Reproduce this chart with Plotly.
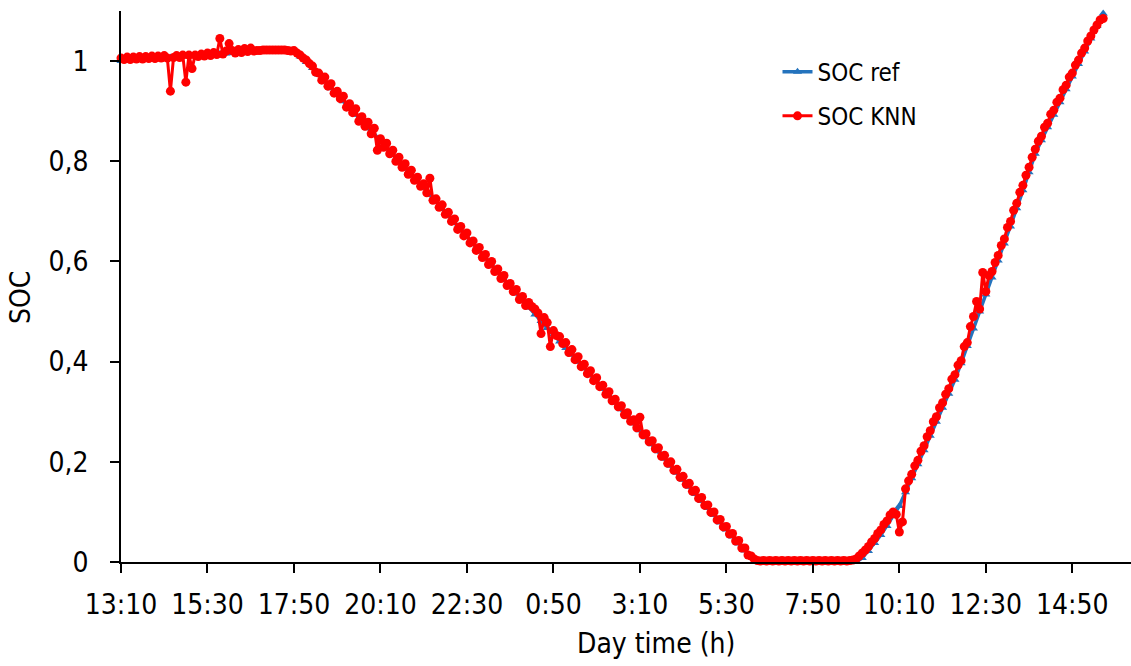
import plotly.graph_objects as go

# Tick labels (every 140 minutes starting 13:10)
tick_labels = ["13:10", "15:30", "17:50", "20:10", "22:30", "0:50",
               "3:10", "5:30", "7:50", "10:10", "12:30", "14:50"]
tick_step_min = 140

# SOC reference, one value every 10 minutes from 13:10
soc_ref = [
    1.000, 1.001, 1.002, 1.003, 1.004, 1.004, 1.005, 1.006, 1.007, 1.008,
    1.009, 1.010, 1.011, 1.012, 1.012, 1.013, 1.014, 1.015, 1.016, 1.017,
    1.018, 1.019, 1.020, 1.020, 1.021, 1.021, 1.021, 1.021, 1.020, 1.009,
    0.998, 0.986, 0.973, 0.960, 0.946, 0.933, 0.920, 0.906, 0.893, 0.880,
    0.866, 0.853, 0.840, 0.826, 0.813, 0.800, 0.786, 0.773, 0.760, 0.747,
    0.733, 0.719, 0.705, 0.691, 0.677, 0.663, 0.649, 0.635, 0.621, 0.606,
    0.592, 0.578, 0.564, 0.550, 0.536, 0.521, 0.508, 0.494, 0.481, 0.467,
    0.454, 0.440, 0.427, 0.414, 0.400, 0.387, 0.373, 0.360, 0.346, 0.333,
    0.319, 0.305, 0.291, 0.277, 0.263, 0.249, 0.235, 0.221, 0.206, 0.192,
    0.178, 0.164, 0.150, 0.136, 0.122, 0.108, 0.094, 0.079, 0.065, 0.051,
    0.037, 0.023, 0.010, 0.002, 0.000, 0.000, 0.000, 0.000, 0.000, 0.000,
    0.000, 0.000, 0.000, 0.000, 0.000, 0.000, 0.000, 0.000, 0.000, 0.000,
    0.008, 0.022, 0.038, 0.054, 0.072, 0.092, 0.112, 0.139, 0.167, 0.195,
    0.223, 0.252, 0.280, 0.308, 0.336, 0.364, 0.397, 0.431, 0.466, 0.500,
    0.534, 0.568, 0.602, 0.636, 0.670, 0.706, 0.742, 0.778, 0.815, 0.842,
    0.868, 0.893, 0.918, 0.944, 0.969, 0.994, 1.019, 1.045, 1.070, 1.095,
]
ref_step_min = 10

# SOC estimated by KNN, one value every 5 minutes from 13:10
soc_knn = [
    1.006, 1.003, 1.008, 1.003, 1.008, 1.004, 1.009, 1.004, 1.009, 1.005,
    1.010, 1.005, 1.010, 1.006, 1.011, 1.006, 0.940, 1.007, 1.011, 1.007,
    1.012, 0.958, 1.012, 0.985, 1.012, 1.009, 1.014, 1.010, 1.016, 1.011,
    1.017, 1.013, 1.045, 1.014, 1.020, 1.035, 1.021, 1.016, 1.023, 1.017,
    1.025, 1.019, 1.026, 1.020, 1.021, 1.021, 1.022, 1.022, 1.022, 1.022,
    1.022, 1.022, 1.022, 1.022, 1.021, 1.020, 1.021, 1.016, 1.012, 1.006,
    1.002, 0.995, 0.990, 0.978, 0.976, 0.962, 0.968, 0.950, 0.955, 0.936,
    0.940, 0.925, 0.930, 0.908, 0.915, 0.897, 0.905, 0.880, 0.889, 0.870,
    0.878, 0.855, 0.866, 0.822, 0.845, 0.828, 0.836, 0.815, 0.822, 0.800,
    0.808, 0.788, 0.795, 0.774, 0.782, 0.762, 0.768, 0.750, 0.755, 0.737,
    0.766, 0.722, 0.725, 0.708, 0.713, 0.694, 0.698, 0.680, 0.685, 0.664,
    0.670, 0.651, 0.657, 0.637, 0.641, 0.622, 0.628, 0.608, 0.614, 0.594,
    0.600, 0.580, 0.585, 0.566, 0.572, 0.552, 0.556, 0.540, 0.544, 0.524,
    0.530, 0.512, 0.518, 0.510, 0.505, 0.497, 0.456, 0.488, 0.478, 0.430,
    0.462, 0.452, 0.450, 0.436, 0.438, 0.418, 0.424, 0.404, 0.410, 0.390,
    0.395, 0.376, 0.382, 0.362, 0.368, 0.350, 0.353, 0.335, 0.340, 0.322,
    0.325, 0.310, 0.312, 0.294, 0.298, 0.281, 0.284, 0.268, 0.289, 0.254,
    0.256, 0.240, 0.242, 0.226, 0.228, 0.211, 0.213, 0.197, 0.200, 0.183,
    0.185, 0.169, 0.171, 0.155, 0.157, 0.141, 0.143, 0.127, 0.129, 0.113,
    0.114, 0.099, 0.100, 0.084, 0.085, 0.070, 0.071, 0.056, 0.057, 0.042,
    0.043, 0.028, 0.028, 0.014, 0.012, 0.006, 0.003, 0.002, 0.003, 0.002,
    0.003, 0.002, 0.003, 0.002, 0.003, 0.002, 0.003, 0.002, 0.003, 0.002,
    0.003, 0.002, 0.003, 0.002, 0.003, 0.002, 0.003, 0.002, 0.003, 0.002,
    0.003, 0.002, 0.003, 0.002, 0.003, 0.002, 0.003, 0.004, 0.006, 0.012,
    0.018, 0.024, 0.031, 0.040, 0.047, 0.057, 0.064, 0.075, 0.082, 0.094,
    0.100, 0.095, 0.060, 0.080, 0.146, 0.162, 0.175, 0.192, 0.203, 0.221,
    0.232, 0.250, 0.262, 0.280, 0.290, 0.308, 0.318, 0.335, 0.346, 0.365,
    0.374, 0.393, 0.402, 0.430, 0.438, 0.470, 0.490, 0.520, 0.505, 0.578,
    0.540, 0.572, 0.580, 0.598, 0.612, 0.632, 0.645, 0.668, 0.680, 0.702,
    0.716, 0.738, 0.752, 0.772, 0.788, 0.808, 0.824, 0.840, 0.850, 0.868,
    0.876, 0.894, 0.902, 0.918, 0.926, 0.943, 0.952, 0.968, 0.976, 0.992,
    1.002, 1.016, 1.026, 1.040, 1.050, 1.062, 1.072, 1.082, 1.085,
]
knn_step_min = 5

y_tick_vals = [0, 0.2, 0.4, 0.6, 0.8, 1]
y_tick_text = ["0", "0,2", "0,4", "0,6", "0,8", "1"]

ref_t = [i * ref_step_min for i in range(len(soc_ref))]
knn_t = [i * knn_step_min for i in range(len(soc_knn))]
tick_vals = [i * tick_step_min for i in range(len(tick_labels))]

FONT = "DejaVu Sans Condensed"
BLUE = "#2473BD"
RED = "#FF0000"

fig = go.Figure()
fig.add_trace(go.Scatter(
    x=ref_t, y=soc_ref, name="SOC ref", mode="lines+markers",
    line=dict(color=BLUE, width=3.5),
    marker=dict(symbol="triangle-up", size=8, color=BLUE),
    cliponaxis=False, legendgroup="a",
))
fig.add_trace(go.Scatter(
    x=knn_t, y=soc_knn, name="SOC KNN", mode="lines+markers",
    line=dict(color=RED, width=3),
    marker=dict(symbol="circle", size=9, color=RED),
    cliponaxis=False, legendgroup="b",
))

fig.update_layout(
    width=1131, height=666,
    margin=dict(l=121, r=0, t=11, b=104),
    paper_bgcolor="white", plot_bgcolor="white",
    font=dict(family=FONT, size=28, color="black"),
    showlegend=True,
    legend=dict(x=0.650, y=0.93, xanchor="left", yanchor="top",
                font=dict(family=FONT, size=24, color="black"),
                bgcolor="rgba(0,0,0,0)", traceorder="grouped",
                tracegroupgap=10, itemwidth=30),
    xaxis=dict(
        range=[0, 1635], tickmode="array", tickvals=tick_vals,
        ticktext=tick_labels, ticks="outside", ticklen=9, tickwidth=1.5,
        tickcolor="black", showline=True, linecolor="black", linewidth=1.5,
        showgrid=False, zeroline=False, ticklabelstandoff=8,
        tickfont=dict(family=FONT, size=28),
    ),
    yaxis=dict(
        range=[0, 1.1], tickmode="array", tickvals=y_tick_vals,
        ticktext=y_tick_text, ticks="outside", ticklen=9, tickwidth=1.5,
        tickcolor="black", showline=True, linecolor="black", linewidth=1.5,
        showgrid=False, zeroline=False, ticklabelstandoff=16,
        tickfont=dict(family=FONT, size=28),
    ),
    annotations=[
        dict(text="Day time (h)", xref="paper", yref="paper",
             x=(656 - 121) / 1010, y=-(643 - 562) / 551,
             xanchor="center", yanchor="middle", showarrow=False,
             font=dict(family=FONT, size=28)),
        dict(text="SOC", xref="paper", yref="paper",
             x=-(121 - 21) / 1010, y=(562 - 298) / 551,
             xanchor="center", yanchor="middle", showarrow=False,
             textangle=-90, font=dict(family=FONT, size=28)),
    ],
)

fig.write_html("out.html")
